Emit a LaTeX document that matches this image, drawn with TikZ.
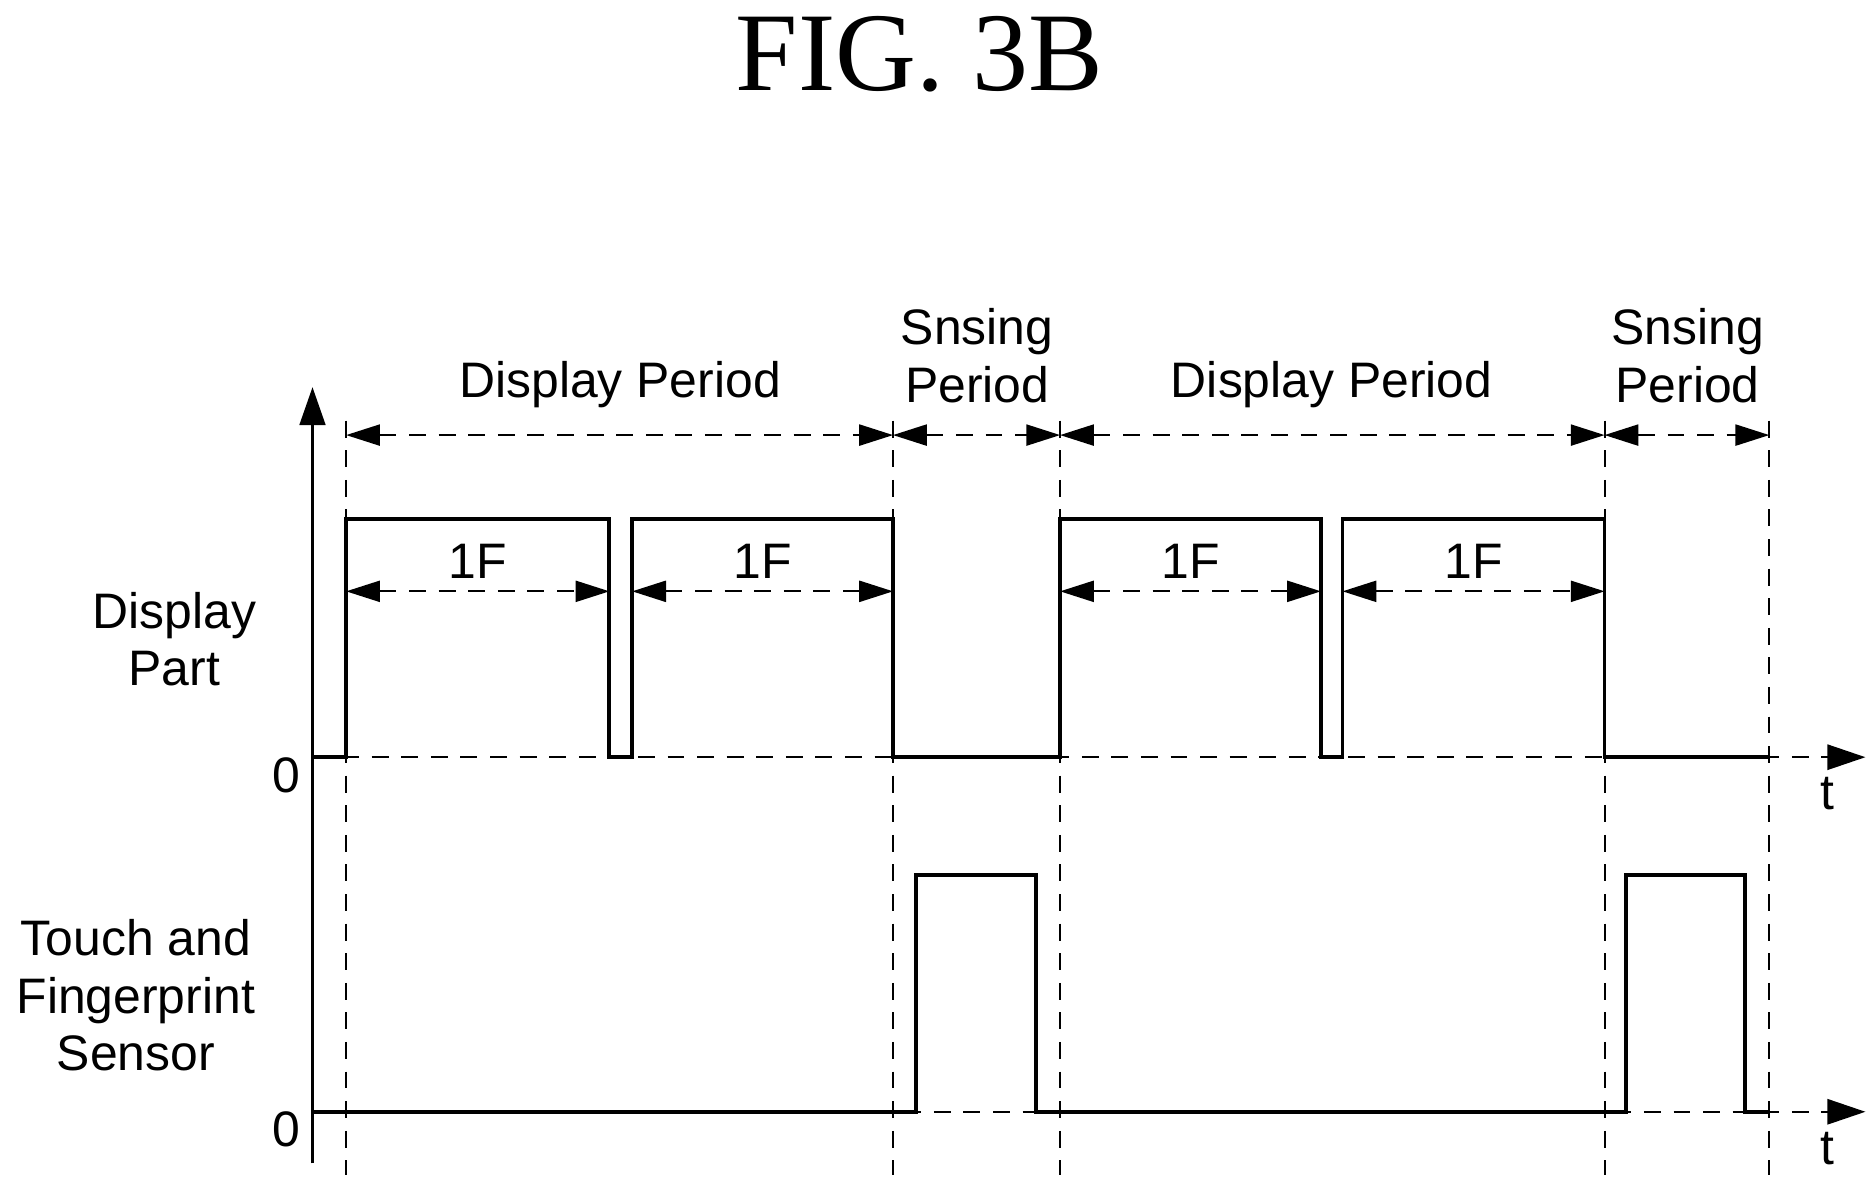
\documentclass[tikz,border=0pt]{standalone}
\usepackage{fontspec}
\setmainfont{Liberation Sans}
\newfontfamily\titlefont{Liberation Serif}
\usetikzlibrary{arrows.meta,calc}
\begin{document}
\begin{tikzpicture}[x=0.01cm,y=-0.01cm,
  wave/.style={line width=0.9pt},
  dline/.style={dashed,line width=0.45pt,dash pattern=on 4pt off 3pt},
  dim/.style={dline,{Triangle[length=8pt,width=5pt]}-{Triangle[length=8pt,width=5pt]}},
  lbl/.style={font=\fontsize{11.8}{13.6}\selectfont,align=center,inner sep=0pt},
  tip/.style={-{Triangle[length=9pt,width=6pt]}}]
\useasboundingbox (0,0) rectangle (1560,989);
\node[font=\titlefont\fontsize{26.5}{28}\selectfont] (title) at (765,45) {FIG. 3B};
% axis
\coordinate (ab) at (260,968); \coordinate (at) at (260,322);
\draw[wave,tip] (ab) -- (at);
% dashed verticals
\foreach \x/\n in {288/a,743/b,882/c,1335/d,1472/e}{
  \coordinate (\n t) at (\x,350); \coordinate (\n b) at (\x,978);
  \draw[dline] (\n t) -- (\n b);}
% period arrows
\foreach \p/\q in {a/b,b/c,c/d,d/e}{
  \draw[dim] ($(\p t)+(0,12)$) -- ($(\q t)+(0,12)$);}
\node[lbl] (dp1) at (516,320) {Display Period};
\node[lbl] (sp1) at (813,296) {Snsing\\Period};
\node[lbl] (dp2) at (1108,320) {Display Period};
\node[lbl] (sp2) at (1404,296) {Snsing\\Period};
% time axes
\coordinate (t1a) at (260,630); \coordinate (t1b) at (1552,630);
\coordinate (t2a) at (260,925); \coordinate (t2b) at (1552,925);
\draw[dline,tip] (t1a) -- (t1b);
\draw[dline,tip] (t2a) -- (t2b);
\node[lbl] (t1) at (1520,660) {t};
\node[lbl] (t2) at (1520,956) {t};
\node[lbl] (z1) at (238,645) {0};
\node[lbl] (z2) at (238,940) {0};
% display waveform
\draw[wave] (260,630) -- (288,630) -- (288,432) -- (507,432) -- (507,630) -- (526,630) -- (526,432) -- (743,432) -- (743,630) -- (882,630) -- (882,432) -- (1099,432) -- (1099,630) -- (1117,630) -- (1117,432) -- (1335,432) -- (1335,630) -- (1472,630);
% 1F
\foreach \l/\r in {288/507,526/743,882/1099,1117/1335}{
  \coordinate (L\l) at (\l,492); \coordinate (R\l) at (\r,492);
  \draw[dim] (L\l) -- (R\l);
  \node[lbl] (f\l) at ({(\l+\r)/2},467) {1F};}
% sensor waveform
\draw[wave] (260,925) -- (762,925) -- (762,728) -- (862,728) -- (862,925) -- (1353,925) -- (1353,728) -- (1452,728) -- (1452,925) -- (1472,925);
\node[lbl] (ldp) at (145,532) {Display\\Part};
\node[lbl] (lts) at (113,828) {Touch and\\Fingerprint\\Sensor};
\end{tikzpicture}
\end{document}
